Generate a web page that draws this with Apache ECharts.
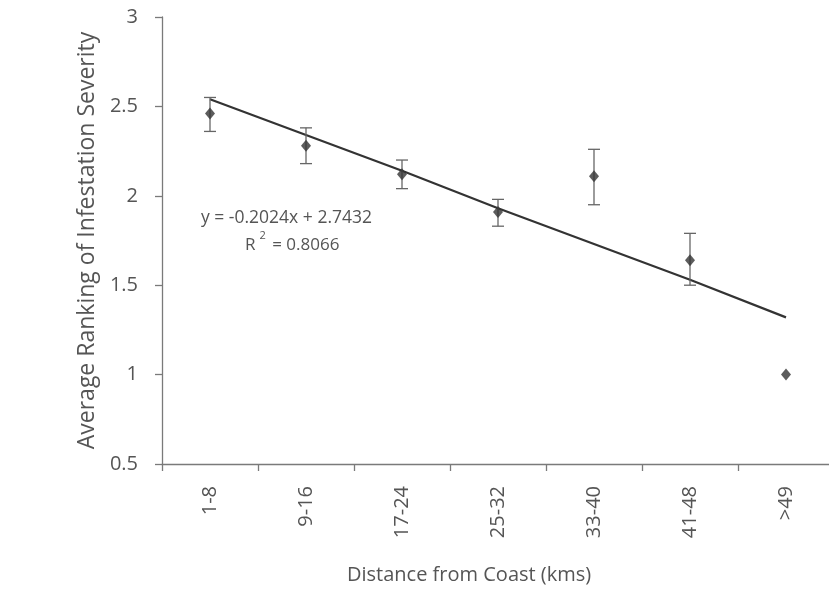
<!DOCTYPE html>
<html>
<head>
<meta charset="utf-8">
<script src="https://cdn.jsdelivr.net/npm/echarts@6/dist/echarts.min.js"></script>
<style>html,body{margin:0;padding:0;background:#fff;overflow:hidden;width:829px;height:590px;}#chart{width:834px;height:590px;}</style>
</head>
<body>
<div id="chart"></div>
<script>
var categories = ['1-8', '9-16', '17-24', '25-32', '33-40', '41-48', '>49'];
var meanValues = [2.46, 2.28, 2.12, 1.91, 2.11, 1.64, 1.00];
var errLow = [2.36, 2.18, 2.04, 1.83, 1.95, 1.50, null];
var errHigh = [2.55, 2.38, 2.20, 1.98, 2.26, 1.79, null];
var trendValues = [2.54, 2.34, 2.14, 1.93, 1.73, 1.53, 1.32];
var yTicks = [0.5, 1, 1.5, 2, 2.5, 3];
var equationText = 'y = -0.2024x + 2.7432';
var rSquaredText = '0.8066';

var errData = [];
for (var i = 0; i < categories.length; i++) {
  if (errLow[i] != null) errData.push([i, errLow[i], errHigh[i]]);
}

var axisColor = '#7a7a7a';
var textColor = '#555';
var font = 'Open Sans';

var chart = echarts.init(document.getElementById('chart'), null, {renderer: 'canvas'});
chart.setOption({
  animation: false,
  backgroundColor: '#fff',
  grid: {left: 162, top: 17, right: 0, bottom: 126, containLabel: false},
  xAxis: {
    type: 'category',
    data: categories,
    boundaryGap: true,
    axisLine: {lineStyle: {color: axisColor, width: 1.3}},
    axisTick: {show: true, length: 7, lineStyle: {color: axisColor, width: 1.3}},
    axisLabel: {rotate: 90, margin: 22, color: textColor, fontFamily: font, fontSize: 20},
    splitLine: {show: false}
  },
  yAxis: {
    type: 'value',
    min: yTicks[0],
    max: yTicks[yTicks.length - 1],
    interval: 0.5,
    name: 'Average Ranking of Infestation Severity',
    nameLocation: 'middle',
    nameRotate: 90,
    nameGap: 54,
    nameTextStyle: {color: textColor, fontFamily: font, fontSize: 23},
    axisLine: {show: true, lineStyle: {color: axisColor, width: 1.3}},
    axisTick: {show: true, length: 7, lineStyle: {color: axisColor, width: 1.3}},
    axisLabel: {margin: 24, color: textColor, fontFamily: font, fontSize: 20,
      formatter: function (v) { return String(v); }},
    splitLine: {show: false}
  },
  graphic: [
    {type: 'text', left: 347, top: 565,
      style: {text: 'Distance from Coast (kms)', fill: textColor, font: '20px "Open Sans"'}},
    {type: 'text', left: 201, top: 209,
      style: {text: equationText, fill: textColor, font: '17.5px "Open Sans"'}},
    {type: 'text', left: 245, top: 230,
      style: {
        text: '{b|R}{s|2}{b| = ' + rSquaredText + '}',
        rich: {
          b: {fill: textColor, fontFamily: font, fontSize: 17, lineHeight: 24, verticalAlign: 'bottom'},
          s: {fill: textColor, fontFamily: font, fontSize: 11, lineHeight: 24, verticalAlign: 'top', padding: [0, 2, 0, 4]}
        }
      }}
  ],
  series: [
    {
      type: 'line',
      data: trendValues,
      showSymbol: false,
      symbol: 'none',
      lineStyle: {color: '#333', width: 2.2},
      z: 3
    },
    {
      type: 'custom',
      data: errData,
      z: 4,
      renderItem: function (params, api) {
        var x = api.value(0);
        var lo = api.coord([x, api.value(1)]);
        var hi = api.coord([x, api.value(2)]);
        var cap = 6;
        var style = {stroke: '#666', lineWidth: 1.3};
        return {
          type: 'group',
          children: [
            {type: 'line', shape: {x1: lo[0], y1: lo[1], x2: hi[0], y2: hi[1]}, style: style},
            {type: 'line', shape: {x1: lo[0] - cap, y1: lo[1], x2: lo[0] + cap, y2: lo[1]}, style: style},
            {type: 'line', shape: {x1: hi[0] - cap, y1: hi[1], x2: hi[0] + cap, y2: hi[1]}, style: style}
          ]
        };
      }
    },
    {
      type: 'scatter',
      data: meanValues,
      symbol: 'diamond',
      symbolSize: [10, 12],
      itemStyle: {color: '#333'},
      z: 5
    }
  ]
});
</script>
</body>
</html>
